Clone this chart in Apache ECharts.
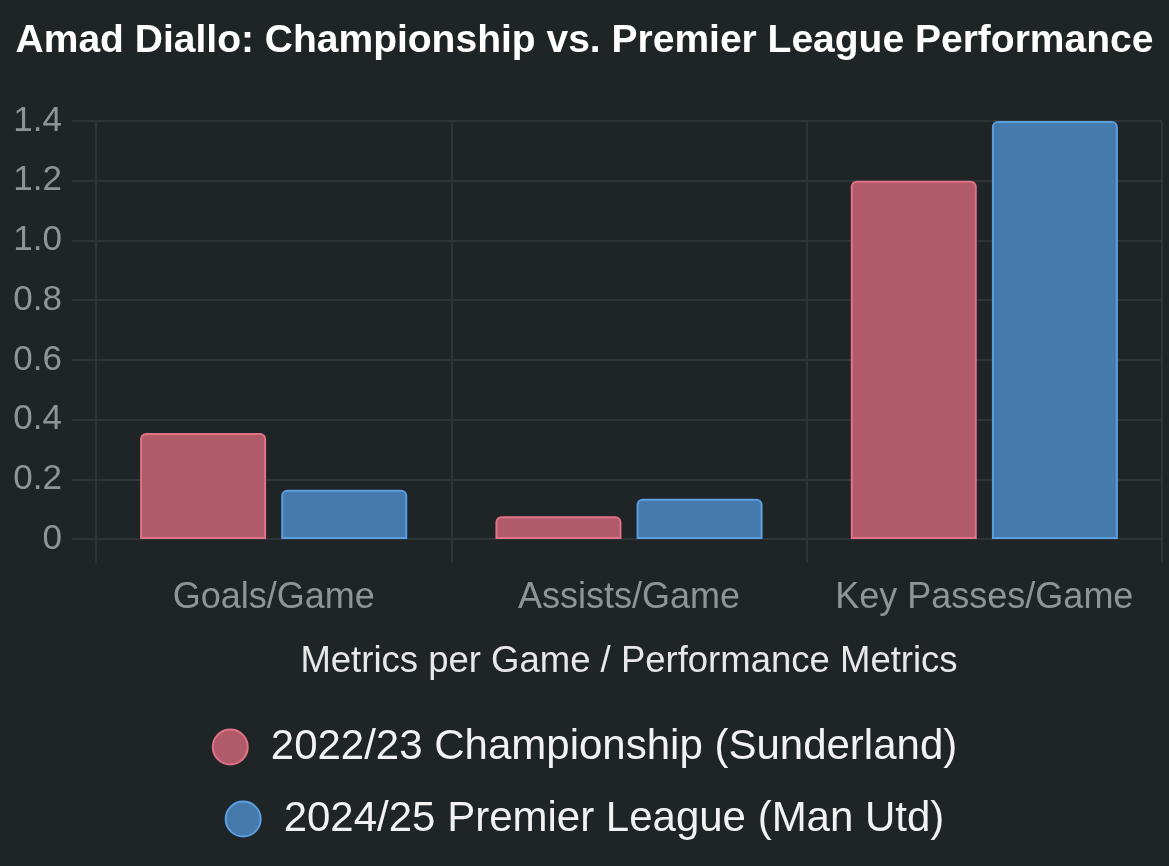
<!DOCTYPE html>
<html>
<head>
<meta charset="utf-8">
<script src="https://cdn.jsdelivr.net/npm/echarts@6/dist/echarts.min.js"></script>
<style>
html,body{margin:0;padding:0;background:#1f2427;}
#c{width:1169px;height:866px;}
</style>
</head>
<body>
<div id="c"></div>
<script>
const categories = ['Goals/Game', 'Assists/Game', 'Key Passes/Game'];
const seriesNames = ['2022/23 Championship (Sunderland)', '2024/25 Premier League (Man Utd)'];
const championship = [0.355, 0.076, 1.2];
const premierLeague = [0.165, 0.135, 1.4];
const yTickLabels = ['0', '0.2', '0.4', '0.6', '0.8', '1.0', '1.2', '1.4'];

const FONT = '"Liberation Sans", Arial, Helvetica, sans-serif';
const GRID = '#2d3337';
const RED = {color: '#b05a6a', borderColor: '#e27285', borderWidth: 2};
const BLUE = {color: '#467aad', borderColor: '#5a9fe0', borderWidth: 2};

const chart = echarts.init(document.getElementById('c'), null, {renderer: 'canvas'});
const legendCommon = {
  left: 'center',
  icon: 'circle',
  itemWidth: 35,
  itemHeight: 35,
  selectedMode: false,
  textStyle: {fontSize: 42, color: '#f2f2f2', fontFamily: FONT, padding: [0, 0, 0, 18]}
};
chart.setOption({
  backgroundColor: '#1f2427',
  textStyle: {fontFamily: FONT},
  animation: false,
  title: {
    text: 'Amad Diallo: Championship vs. Premier League Performance',
    left: 'center',
    top: 17,
    textStyle: {fontSize: 39, fontWeight: 'bold', color: '#ffffff', fontFamily: FONT}
  },
  legend: [
    Object.assign({}, legendCommon, {top: 721, data: [{name: seriesNames[0], itemStyle: RED}]}),
    Object.assign({}, legendCommon, {top: 793, data: [{name: seriesNames[1], itemStyle: BLUE}]})
  ],
  grid: {left: 96, right: 7, top: 121, bottom: 327, containLabel: false},
  xAxis: {
    type: 'category',
    data: categories,
    axisLine: {show: true, lineStyle: {color: GRID, width: 2}},
    axisTick: {show: true, interval: 0, length: 24, lineStyle: {color: GRID, width: 2}},
    splitLine: {show: true, interval: 0, lineStyle: {color: GRID, width: 2}},
    axisLabel: {color: '#8f9499', fontSize: 36, margin: 41, interval: 0, hideOverlap: false, fontFamily: FONT},
    name: 'Metrics per Game / Performance Metrics',
    nameLocation: 'middle',
    nameGap: 104,
    nameTextStyle: {fontSize: 36.5, color: '#e8e8e8', fontFamily: FONT}
  },
  yAxis: {
    type: 'value',
    min: 0,
    max: 1.4,
    interval: 0.2,
    axisLine: {show: true, lineStyle: {color: GRID, width: 2}},
    axisTick: {show: true, length: 24, lineStyle: {color: GRID, width: 2}},
    splitLine: {show: true, lineStyle: {color: GRID, width: 2}},
    axisLabel: {
      color: '#8f9499', fontSize: 35, margin: 34, fontFamily: FONT,
      formatter: function (v) { return yTickLabels[Math.round(v / 0.2)]; }
    }
  },
  series: [
    {name: seriesNames[0], type: 'bar', data: championship, barWidth: 126, barGap: '12%',
     itemStyle: Object.assign({borderRadius: [5, 5, 0, 0]}, RED)},
    {name: seriesNames[1], type: 'bar', data: premierLeague, barWidth: 126, barGap: '12%',
     itemStyle: Object.assign({borderRadius: [5, 5, 0, 0]}, BLUE)}
  ]
});
</script>
</body>
</html>
